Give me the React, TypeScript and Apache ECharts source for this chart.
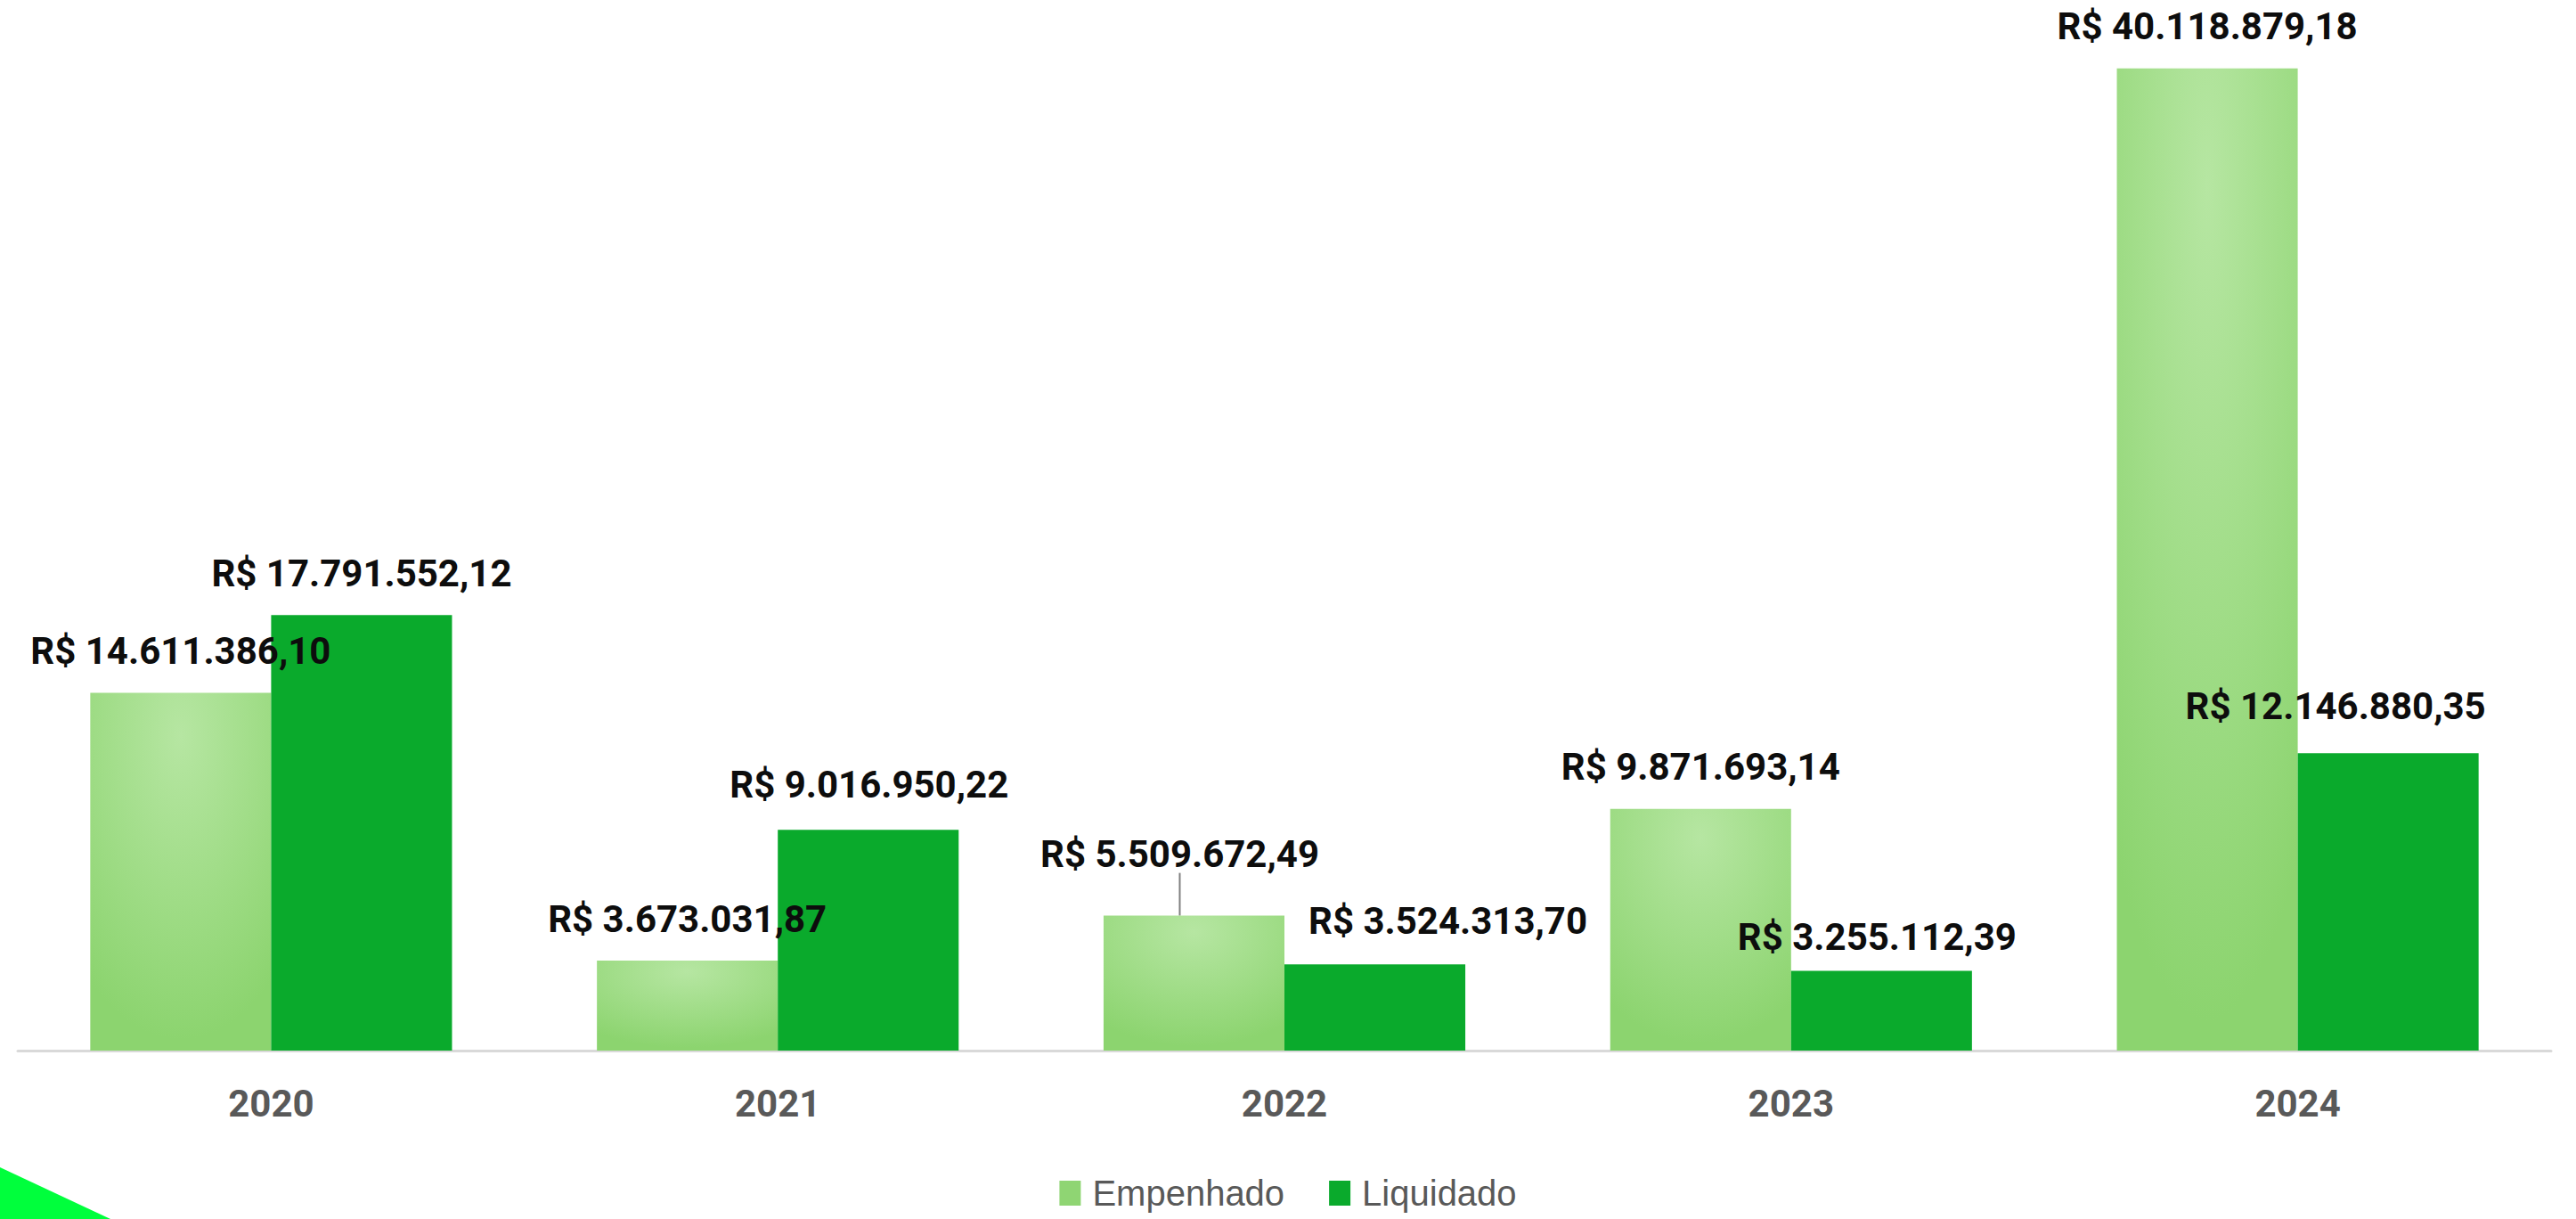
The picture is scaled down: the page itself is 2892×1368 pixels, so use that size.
import React, { useEffect, useRef } from "react";
import * as echarts from "echarts";

const years = ["2020", "2021", "2022", "2023", "2024"];
const empenhado = [14611386.1, 3673031.87, 5509672.49, 9871693.14, 40118879.18];
const liquidado = [17791552.12, 9016950.22, 3524313.7, 3255112.39, 12146880.35];
const seriesNames = ["Empenhado", "Liquidado"];

// label nudges (pixels) for individual data labels, as in the reference
const empShift: Record<number, [number, number]> = { 0: [-3, 0], 1: [2, 6], 3: [2, 4], 4: [4, -6] };
const liqShift: Record<number, [number, number]> = { 1: [1, -4], 2: [82, -2], 3: [-5, 9], 4: [-59, -6] };
const leaderIndex = 2;

function brl(v: number): string {
  const fixed = v.toFixed(2);
  const [intPart, dec] = fixed.split(".");
  const withDots = intPart.replace(/\B(?=(\d{3})+(?!\d))/g, ".");
  return "R$ " + withDots + "," + dec;
}

const labelBase = {
  show: true,
  position: "top" as const,
  distance: 26,
  color: "#0d0d0d",
  fontFamily: "Roboto",
  fontWeight: "bold" as const,
  fontSize: 42,
  formatter: (p: any) => brl(p.value),
};

function buildData(values: number[], shifts: Record<number, [number, number]>, leader?: number) {
  return values.map((v, i) => {
    const s = shifts[i];
    const item: any = { value: v };
    if (s) item.label = { offset: s };
    if (leader === i) item.labelLine = { show: true, lineStyle: { color: "#7f7f7f", width: 2 } };
    return item;
  });
}

export default function App() {
  const ref = useRef<HTMLDivElement>(null);

  useEffect(() => {
    if (!ref.current) return;
    const chart = echarts.init(ref.current, undefined, { renderer: "svg" });
    const empColor = new echarts.graphic.RadialGradient(0.5, 0.12, 0.85, [
      { offset: 0, color: "#b6e6a2" },
      { offset: 1, color: "#8cd46f" },
    ]);
    chart.setOption({
      animation: false,
      backgroundColor: "#ffffff",
      grid: { left: 20, right: 28, top: 25, bottom: 189 },
      xAxis: {
        type: "category",
        data: years,
        axisTick: { show: false },
        axisLine: { lineStyle: { color: "#d9d9d9", width: 3 } },
        axisLabel: {
          margin: 38,
          color: "#595959",
          fontFamily: "Roboto",
          fontWeight: "bold",
          fontSize: 42,
        },
      },
      yAxis: {
        type: "value",
        min: 0,
        max: 42000000,
        show: false,
        splitLine: { show: false },
      },
      legend: {
        data: [
          { name: seriesNames[0], itemStyle: { color: "#8fd573" } },
          { name: seriesNames[1], itemStyle: { color: "#0aaa2c" } },
        ],
        left: "center",
        top: 1314,
        itemWidth: 24,
        itemHeight: 28,
        itemGap: 50,
        icon: "rect",
        textStyle: {
          color: "#595959",
          fontFamily: "Liberation Sans",
          fontSize: 40,
          padding: [0, 0, 0, 8],
        },
      },
      series: [
        {
          name: seriesNames[0],
          type: "bar",
          barGap: "0%",
          barCategoryGap: "28.6%",
          itemStyle: { color: empColor },
          label: labelBase,
          labelLine: { show: false },
          labelLayout: (p: any) => (p.dataIndex === leaderIndex ? { dx: -16, dy: -22 } : {}),
          data: buildData(empenhado, empShift, leaderIndex),
        },
        {
          name: seriesNames[1],
          type: "bar",
          barGap: "0%",
          barCategoryGap: "28.6%",
          itemStyle: { color: "#0aaa2c" },
          label: labelBase,
          data: buildData(liquidado, liqShift),
        },
      ],
      graphic: [
        {
          type: "polygon",
          shape: { points: [[0, 1310], [124, 1368], [0, 1368]] },
          style: { fill: "#00ff3c" },
          z: 10,
        },
      ],
    });
    return () => chart.dispose();
  }, []);

  return (
    <div
      ref={ref}
      style={{ position: "fixed", left: 0, top: 0, width: 2892, height: 1368, background: "#fff" }}
    />
  );
}
